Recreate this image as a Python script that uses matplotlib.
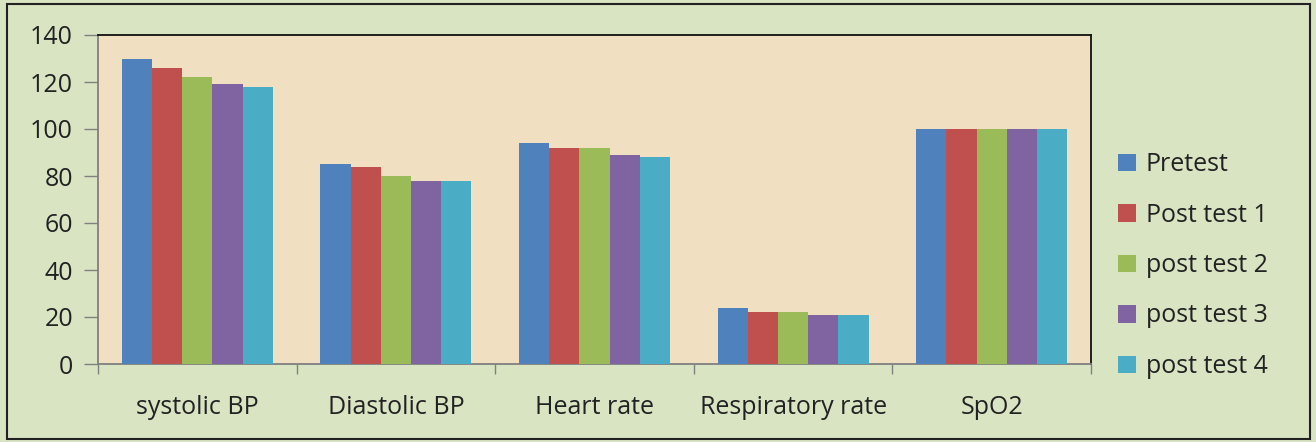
import matplotlib
matplotlib.use("Agg")
import matplotlib.pyplot as plt
import numpy as np
from matplotlib.patches import Rectangle

categories = ["systolic BP", "Diastolic BP", "Heart rate", "Respiratory rate", "SpO2"]
series_names = ["Pretest", "Post test 1", "post test 2", "post test 3", "post test 4"]
pretest = [130, 85, 94, 24, 100]
post1 = [126, 84, 92, 22, 100]
post2 = [122, 80, 92, 22, 100]
post3 = [119, 78, 89, 21, 100]
post4 = [118, 78, 88, 21, 100]
yticks = [0, 20, 40, 60, 80, 100, 120, 140]

series = [pretest, post1, post2, post3, post4]
colors = ["#4F81BD", "#C0504D", "#9BBB59", "#8064A2", "#4BACC6"]

plt.rcParams['font.family'] = ['Open Sans', 'DejaVu Sans']

W, H = 1316, 442
fig = plt.figure(figsize=(W / 100, H / 100), dpi=100)
fig.patch.set_facecolor("#D9E4C3")

left, right, top, bottom = 98, 1091, 35, 364
ax = fig.add_axes([left / W, 1 - bottom / H, (right - left) / W, (bottom - top) / H])
ax.set_facecolor("#F0DFC0")

n = len(series)
x = np.arange(len(categories))
group_w = 0.76
bw = group_w / n
for i, (vals, name, c) in enumerate(zip(series, series_names, colors)):
    ax.bar(x - group_w / 2 + bw * (i + 0.5), vals, width=bw, color=c, label=name,
           edgecolor="none", zorder=3)

fs = 18
ax.set_xlim(-0.5, len(categories) - 0.5)
ax.set_ylim(0, 140)
ax.set_yticks(yticks)
ax.set_yticklabels([str(v) for v in yticks], fontsize=fs, color="#222222")
ax.tick_params(axis="y", length=10, width=1, color="#808080", direction="out", pad=8)
ax.set_xticks(np.arange(-0.5, len(categories) + 0.5, 1.0), minor=False)
ax.set_xticklabels([])
ax.tick_params(axis="x", length=7, width=1, color="#808080", direction="out")
ax.set_xticks(x, minor=True)
ax.set_xticklabels(categories, minor=True, fontsize=fs, color="#222222")
ax.tick_params(axis="x", which="minor", length=0, pad=22)

for s in ["top", "right"]:
    ax.spines[s].set_color("#111111")
    ax.spines[s].set_linewidth(1.3)
for s in ["left", "bottom"]:
    ax.spines[s].set_color("#808080")
    ax.spines[s].set_linewidth(1.3)

leg = fig.legend(loc="upper left", bbox_to_anchor=(1108 / W, 1 - 142 / H), frameon=False,
                 fontsize=fs, handlelength=0.7, handleheight=0.7, handletextpad=0.4,
                 labelspacing=1.02, borderaxespad=0)
for t in leg.get_texts():
    t.set_color("#222222")

fig.patches.append(Rectangle((7 / W, 3 / H), 1303 / W, 435 / H, transform=fig.transFigure,
                             fill=False, edgecolor="#222222", linewidth=1.5))

fig.savefig("out.png", dpi=100, facecolor=fig.get_facecolor())
